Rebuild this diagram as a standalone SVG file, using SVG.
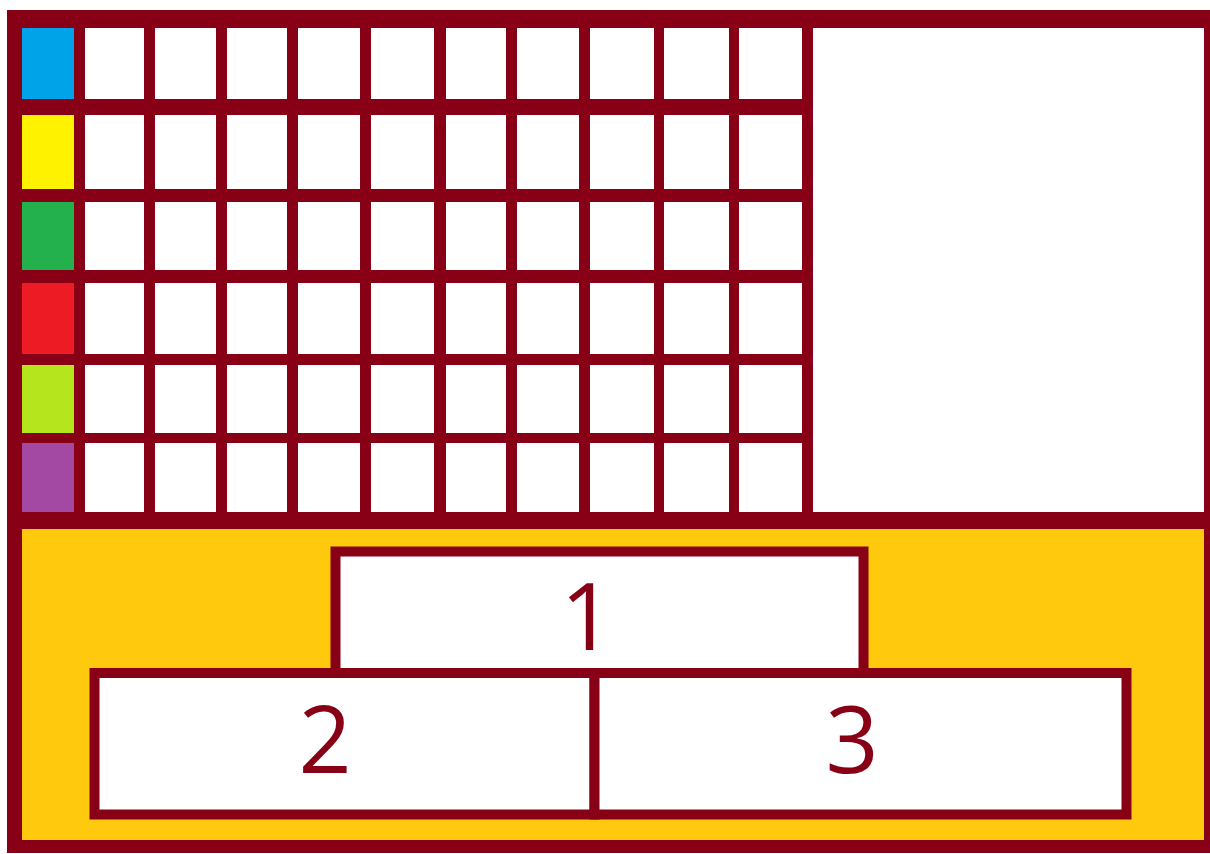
<svg xmlns="http://www.w3.org/2000/svg" width="1210" height="854" viewBox="0 0 1210 854">
<style>
.frame{fill:#880015}
.cell{fill:#ffffff}
.box{fill:#ffffff;stroke:#880015;stroke-width:10}
.num{font-family:"Open Sans","Noto Sans","Liberation Sans",sans-serif;font-size:93px;font-weight:400;fill:#880015;text-anchor:middle}
</style>
<rect width="1210" height="854" fill="#ffffff"/>
<g id="frame">
<rect class="frame" x="7" y="10" width="1203" height="843"/>
</g>
<g id="swatches">
<rect x="22" y="28" width="52" height="71" fill="#00A2E8"/>
<rect x="22" y="115" width="52" height="74" fill="#FFF200"/>
<rect x="22" y="202" width="52" height="68" fill="#22B14C"/>
<rect x="22" y="283" width="52" height="71" fill="#ED1C24"/>
<rect x="22" y="365" width="52" height="68" fill="#B5E61D"/>
<rect x="22" y="443" width="52" height="69" fill="#A349A4"/>
</g>
<g id="grid">
<g id="row1">
<rect class="cell" x="85" y="28" width="59" height="71"/><rect class="cell" x="155" y="28" width="61" height="71"/><rect class="cell" x="227" y="28" width="60" height="71"/><rect class="cell" x="298" y="28" width="62" height="71"/><rect class="cell" x="371" y="28" width="63" height="71"/><rect class="cell" x="446" y="28" width="60" height="71"/><rect class="cell" x="517" y="28" width="62" height="71"/><rect class="cell" x="590" y="28" width="64" height="71"/><rect class="cell" x="664" y="28" width="65" height="71"/><rect class="cell" x="739" y="28" width="63" height="71"/>
</g>
<g id="row2">
<rect class="cell" x="85" y="115" width="59" height="74"/><rect class="cell" x="155" y="115" width="61" height="74"/><rect class="cell" x="227" y="115" width="60" height="74"/><rect class="cell" x="298" y="115" width="62" height="74"/><rect class="cell" x="371" y="115" width="63" height="74"/><rect class="cell" x="446" y="115" width="60" height="74"/><rect class="cell" x="517" y="115" width="62" height="74"/><rect class="cell" x="590" y="115" width="64" height="74"/><rect class="cell" x="664" y="115" width="65" height="74"/><rect class="cell" x="739" y="115" width="63" height="74"/>
</g>
<g id="row3">
<rect class="cell" x="85" y="202" width="59" height="68"/><rect class="cell" x="155" y="202" width="61" height="68"/><rect class="cell" x="227" y="202" width="60" height="68"/><rect class="cell" x="298" y="202" width="62" height="68"/><rect class="cell" x="371" y="202" width="63" height="68"/><rect class="cell" x="446" y="202" width="60" height="68"/><rect class="cell" x="517" y="202" width="62" height="68"/><rect class="cell" x="590" y="202" width="64" height="68"/><rect class="cell" x="664" y="202" width="65" height="68"/><rect class="cell" x="739" y="202" width="63" height="68"/>
</g>
<g id="row4">
<rect class="cell" x="85" y="283" width="59" height="71"/><rect class="cell" x="155" y="283" width="61" height="71"/><rect class="cell" x="227" y="283" width="60" height="71"/><rect class="cell" x="298" y="283" width="62" height="71"/><rect class="cell" x="371" y="283" width="63" height="71"/><rect class="cell" x="446" y="283" width="60" height="71"/><rect class="cell" x="517" y="283" width="62" height="71"/><rect class="cell" x="590" y="283" width="64" height="71"/><rect class="cell" x="664" y="283" width="65" height="71"/><rect class="cell" x="739" y="283" width="63" height="71"/>
</g>
<g id="row5">
<rect class="cell" x="85" y="365" width="59" height="68"/><rect class="cell" x="155" y="365" width="61" height="68"/><rect class="cell" x="227" y="365" width="60" height="68"/><rect class="cell" x="298" y="365" width="62" height="68"/><rect class="cell" x="371" y="365" width="63" height="68"/><rect class="cell" x="446" y="365" width="60" height="68"/><rect class="cell" x="517" y="365" width="62" height="68"/><rect class="cell" x="590" y="365" width="64" height="68"/><rect class="cell" x="664" y="365" width="65" height="68"/><rect class="cell" x="739" y="365" width="63" height="68"/>
</g>
<g id="row6">
<rect class="cell" x="85" y="443" width="59" height="69"/><rect class="cell" x="155" y="443" width="61" height="69"/><rect class="cell" x="227" y="443" width="60" height="69"/><rect class="cell" x="298" y="443" width="62" height="69"/><rect class="cell" x="371" y="443" width="63" height="69"/><rect class="cell" x="446" y="443" width="60" height="69"/><rect class="cell" x="517" y="443" width="62" height="69"/><rect class="cell" x="590" y="443" width="64" height="69"/><rect class="cell" x="664" y="443" width="65" height="69"/><rect class="cell" x="739" y="443" width="63" height="69"/>
</g>
</g>
<g id="side-panel">
<rect class="cell" x="813" y="28" width="391" height="484"/>
</g>
<g id="podium-panel">
<rect x="22" y="529" width="1182" height="311" fill="#FFC90E"/>
</g>
<g id="place1">
<rect class="box" x="335.5" y="551.5" width="528" height="122"/>
<text class="num" x="587" y="650">1</text>
</g>
<g id="place2">
<rect class="box" x="94.5" y="673" width="500" height="141.5"/>
<text class="num" x="325" y="773">2</text>
</g>
<g id="place3">
<rect class="box" x="594.5" y="673" width="532" height="141.5"/>
<text class="num" x="852" y="773">3</text>
</g>
</svg>
